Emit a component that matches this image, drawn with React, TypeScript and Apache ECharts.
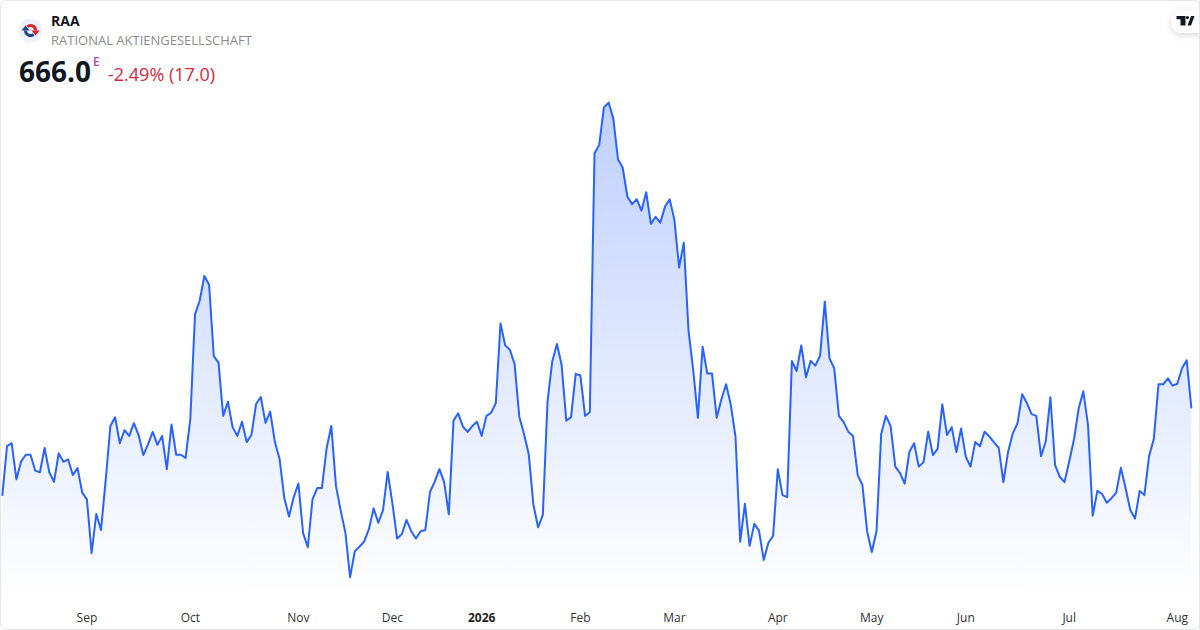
import React, { useEffect, useRef } from "react";
import * as echarts from "echarts";

const prices: number[] = [
  634.9, 652.6, 653.6, 640.8, 647.1, 649.5, 649.5, 643.9, 643.3, 651.9,
  643.3, 639.9, 650.0, 647.0, 647.9, 642.3, 644.8, 636.1, 633.7, 614.6,
  628.5, 622.8, 640.6, 659.7, 662.8, 653.6, 658.2, 656.2, 660.7, 656.5,
  649.4, 653.2, 657.6, 653.0, 656.2, 644.4, 660.2, 649.5, 649.5, 648.4,
  662.1, 699.3, 704.2, 712.9, 709.8, 684.5, 682.2, 663.3, 668.3, 659.3,
  656.2, 661.2, 654.0, 656.5, 667.5, 670.0, 660.8, 664.8, 654.0, 648.0,
  634.2, 627.6, 634.5, 639.3, 621.7, 616.7, 633.7, 637.7, 637.7, 651.8,
  659.7, 638.4, 629.7, 621.9, 606.1, 615.3, 616.9, 618.8, 623.1, 630.5,
  625.4, 629.9, 643.4, 632.3, 619.8, 621.3, 626.4, 622.4, 619.8, 622.4,
  622.8, 636.3, 640.0, 644.4, 639.9, 628.4, 661.6, 664.2, 659.5, 657.6,
  659.7, 661.2, 656.2, 663.3, 664.4, 667.8, 696.1, 688.3, 686.7, 681.7,
  663.0, 656.9, 649.8, 631.8, 623.8, 628.1, 668.3, 682.5, 688.8, 681.4,
  661.6, 662.8, 678.2, 677.6, 663.3, 664.6, 756.4, 759.4, 772.7, 774.4,
  768.8, 754.3, 751.3, 741.0, 738.4, 740.1, 736.1, 742.6, 731.4, 733.9,
  731.8, 737.5, 740.1, 732.8, 715.9, 724.7, 693.5, 679.6, 662.6, 687.8,
  678.3, 678.3, 662.6, 669.2, 674.5, 667.2, 655.9, 618.7, 632.1, 617.2,
  625.0, 622.6, 612.2, 618.3, 620.7, 644.4, 635.2, 634.5, 682.8, 679.2,
  688.3, 677.0, 682.8, 681.1, 684.7, 703.8, 683.7, 680.2, 663.3, 661.1,
  657.7, 656.2, 642.3, 638.8, 622.4, 615.0, 622.4, 656.9, 663.3, 659.7,
  645.3, 643.0, 639.3, 650.6, 653.6, 645.3, 646.9, 657.7, 649.4, 651.6,
  667.4, 656.5, 659.3, 650.5, 658.8, 648.8, 645.3, 654.0, 652.5, 657.7,
  656.0, 653.9, 652.0, 639.8, 650.6, 657.1, 660.7, 671.0, 667.8, 663.9,
  663.3, 649.0, 654.2, 669.9, 645.8, 641.7, 639.8, 647.1, 654.8, 665.8,
  672.0, 660.1, 627.9, 636.7, 635.6, 632.5, 634.1, 636.1, 644.9, 637.6,
  629.9, 626.9, 636.7, 635.2, 649.1, 655.1, 674.5, 674.5, 676.6, 674.0,
  674.7, 680.2, 683.0, 666.0,
];
const tickIndices: number[] = [18, 40, 63, 83, 102, 123, 143, 165, 185, 205, 227, 250];
const tickLabels: string[] = ["Sep", "Oct", "Nov", "Dec", "2026", "Feb", "Mar", "Apr", "May", "Jun", "Jul", "Aug"];
const categories: string[] = prices.map((_, i) => {
  const t = tickIndices.indexOf(i);
  return t >= 0 ? tickLabels[t] : String(i);
});

const FONT = "'Open Sans', 'Noto Sans', sans-serif";

echarts.graphic.registerShape(
  "tvLogo",
  echarts.graphic.extendPath(
    "M9 0H0v3.2h4V9.5h5V0ZM14.5 9.5h-3.5L14.5 0H18L14.5 9.5ZM11 3.2a1.6 1.6 0 1 0 0-3.2a1.6 1.6 0 0 0 0 3.2Z",
    {}
  ) as any
);

const deg = Math.PI / 180;

export default function App() {
  const ref = useRef<HTMLDivElement>(null);
  useEffect(() => {
    document.body.style.margin = "0";
    const chart = echarts.init(ref.current!, undefined, { renderer: "svg" });
    chart.setOption({
      animation: false,
      backgroundColor: "#ffffff",
      grid: { left: 2.3, right: 8.6, top: 60, bottom: 30 },
      xAxis: {
        type: "category",
        data: categories,
        boundaryGap: false,
        axisLine: { show: false },
        axisTick: { show: false },
        splitLine: { show: false },
        axisLabel: {
          interval: (i: number) => tickIndices.includes(i),
          hideOverlap: false,
          margin: 11,
          fontFamily: FONT,
          fontSize: 12,
          color: "#333333",
          formatter: (v: string) => (/^\d{4}$/.test(v) ? `{b|${v}}` : v),
          rich: { b: { fontFamily: FONT, fontSize: 12, fontWeight: 700, color: "#222222" } },
        },
      },
      yAxis: { type: "value", min: 598, max: 789.5, show: false, splitLine: { show: false } },
      series: [
        {
          type: "line",
          data: prices,
          symbol: "none",
          smooth: false,
          lineStyle: { color: "#2962ff", width: 2, join: "round" },
          areaStyle: {
            color: new echarts.graphic.LinearGradient(0, 102, 0, 600, [
              { offset: 0, color: "rgba(41,98,255,0.3)" },
              { offset: 1, color: "rgba(41,98,255,0)" },
            ], true),
            opacity: 1,
          },
        },
      ],
      graphic: [
        { type: "rect", shape: { x: 0.5, y: 0.5, width: 1199, height: 629, r: 6 }, style: { fill: "none", stroke: "#e6e6e6", lineWidth: 1 }, z: 10 },
        { type: "circle", shape: { cx: 30.5, cy: 30.5, r: 12 }, style: { fill: "#eef1f9" } },
        { type: "arc", shape: { cx: 30.5, cy: 30.5, r: 5, startAngle: -130 * deg, endAngle: 0, clockwise: true }, style: { stroke: "#d9232e", lineWidth: 3, fill: "none" } },
        { type: "arc", shape: { cx: 30.5, cy: 30.5, r: 5, startAngle: 50 * deg, endAngle: 180 * deg, clockwise: true }, style: { stroke: "#1d4a8f", lineWidth: 3, fill: "none" } },
        { type: "polygon", shape: { points: [[31.5, 30.5], [39.5, 30.5], [35.5, 35.5]] }, style: { fill: "#d9232e" } },
        { type: "polygon", shape: { points: [[21.5, 30.5], [29.5, 30.5], [25.5, 25.5]] }, style: { fill: "#1d4a8f" } },
        { type: "text", x: 51, y: 20, style: { text: "RAA", fontFamily: FONT, fontSize: 14, fontWeight: 700, fill: "#131722", verticalAlign: "middle" } },
        { type: "text", x: 51, y: 39.5, style: { text: "RATIONAL AKTIENGESELLSCHAFT", fontFamily: FONT, fontSize: 13, fill: "#8c8c8c", verticalAlign: "middle" } },
        { type: "text", x: 19, y: 71, style: { text: "666.0", fontFamily: FONT, fontSize: 28, fontWeight: 700, fill: "#131722", verticalAlign: "middle" } },
        { type: "text", x: 93, y: 61, style: { text: "E", fontFamily: FONT, fontSize: 12, fontWeight: 600, fill: "#ab47bc", verticalAlign: "middle" } },
        { type: "text", x: 108, y: 73.5, style: { text: "-2.49% (17.0)", fontFamily: FONT, fontSize: 18, fill: "#d6293e", verticalAlign: "middle" } },
        { type: "rect", shape: { x: 1171, y: 10, width: 40, height: 23, r: 11 }, style: { fill: "#ffffff", shadowBlur: 6, shadowColor: "rgba(0,0,0,0.15)", shadowOffsetY: 2 } },
        { type: "rect", shape: { x: 1199, y: 0, width: 1, height: 630 }, style: { fill: "#e6e6e6" } },
        { type: "tvLogo", x: 1176.5, y: 16, style: { fill: "#131722" } },
      ],
    });
    return () => chart.dispose();
  }, []);
  return <div ref={ref} style={{ position: "fixed", left: 0, top: 0, width: 1200, height: 630 }} />;
}
